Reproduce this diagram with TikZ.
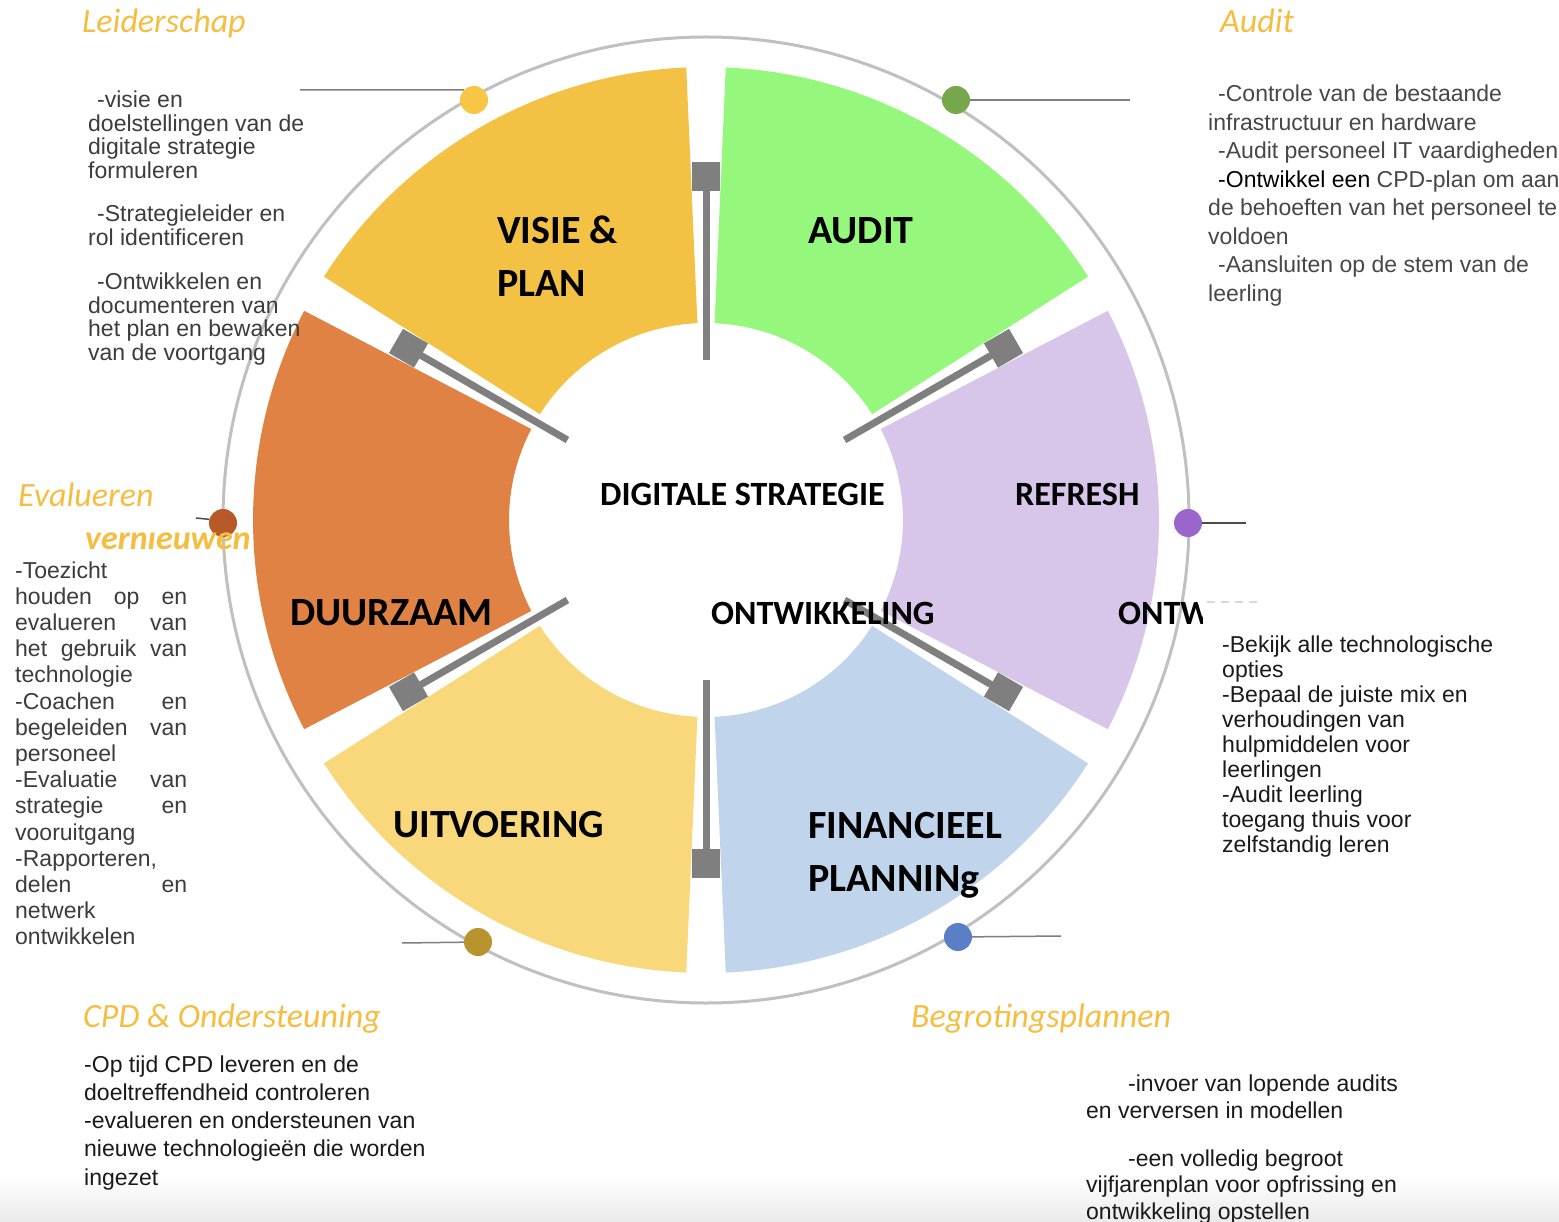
\documentclass[tikz,border=0pt]{standalone}
\usepackage{fontspec}
\setmainfont{Liberation Sans}
\newfontfamily\bodyfont{Liberation Sans}
\newfontfamily\headfont{Carlito}
\definecolor{cVisie}{HTML}{F3C143}
\definecolor{cAudit}{HTML}{96F77D}
\definecolor{cRefresh}{HTML}{D8C6EA}
\definecolor{cDuur}{HTML}{DF8244}
\definecolor{cUit}{HTML}{F8D87A}
\definecolor{cFin}{HTML}{C0D5EB}
\definecolor{cBar}{HTML}{7F7F7F}
\definecolor{cRing}{HTML}{C0C0C0}
\definecolor{cHead}{HTML}{F5BE41}
\definecolor{cDotL}{HTML}{F6C744}
\definecolor{cDotA}{HTML}{76A74A}
\definecolor{cDotR}{HTML}{9B66CC}
\definecolor{cDotE}{HTML}{B85A28}
\definecolor{cDotC}{HTML}{B8942F}
\definecolor{cDotB}{HTML}{5B7FC7}
\definecolor{tDark}{HTML}{3C3C3C}
\definecolor{tAudit}{HTML}{474747}
\definecolor{tBlack}{HTML}{1A1A1A}
\newcommand\jline[1]{\makebox[172pt][s]{#1}}
\tikzset{
  segbig/.style={font=\headfont\bfseries\fontsize{40}{44}\selectfont, anchor=base west, inner sep=0pt, text=black},
  segmid/.style={font=\headfont\bfseries\fontsize{34}{40}\selectfont, anchor=base west, inner sep=0pt, text=black},
  heading/.style={font=\headfont\itshape\fontsize{34}{40}\selectfont, anchor=base west, inner sep=0pt, text=cHead},
  body/.style={anchor=base west, inner sep=0pt, align=left},
  dotnode/.style={circle, minimum size=28pt, inner sep=0pt, draw=none},
  leader/.style={draw=cBar, line width=1.5pt},
}
\begin{document}
\begin{tikzpicture}[x=1pt,y=-1pt]
\useasboundingbox (0,0) rectangle (1559,1222);
\clip (0,0) rectangle (1559,1222);
\fill[white] (0,0) rectangle (1559,1222);
\shade[top color=white, bottom color=black!8] (0,1175) rectangle (1559,1222);

% ring
\begin{scope}[shift={(706,520)}, yscale=-1]
  \draw[cRing, line width=3pt] (0,0) circle[radius=483];
  \foreach \a/\c in {0/cRefresh, 60/cAudit, 120/cVisie, 180/cDuur, 240/cUit, 300/cFin} {
    \fill[\c] ({\a-27.5}:197) arc[start angle={\a-27.5}, end angle={\a+27.5}, radius=197]
      -- ({\a+27.5}:453) arc[start angle={\a+27.5}, end angle={\a-27.5}, radius=453] -- cycle;
  }
  \foreach \a in {30,90,150,210,270,330} {
    \begin{scope}[rotate=\a]
      \fill[cBar] (160,-3.5) rectangle (352,3.5);
      \fill[cBar] (329,-14) rectangle (358,14);
    \end{scope}
  }
\end{scope}

% dots and leader lines
\node[dotnode, fill=cDotL] (dL) at (474,100) {};
\node[dotnode, fill=cDotA] (dA) at (956,100) {};
\node[dotnode, fill=cDotR] (dR) at (1188,523) {};
\node[dotnode, fill=cDotE] (dE) at (223,523) {};
\node[dotnode, fill=cDotC] (dC) at (478,942) {};
\node[dotnode, fill=cDotB] (dB) at (958,937) {};
\coordinate (eL) at (300,90);
\coordinate (eA) at (1130,100);
\coordinate (eR) at (1246,523);
\coordinate (eE) at (196,518);
\coordinate (eC) at (402,943);
\coordinate (eB) at (1061,936);
\draw[leader] (eL) -- (dL.135);
\draw[leader] (dA) -- (eA);
\draw[leader, draw=black!70] (dR) -- (eR);
\draw[leader, draw=black!70] (eE) -- (dE.165);
\draw[leader] (eC) -- (dC);
\draw[leader] (dB) -- (eB);
\coordinate (dsA) at (1207,602);
\coordinate (dsB) at (1262,602);
\draw[draw=black!15, line width=1.5pt, dash pattern=on 8pt off 6pt] (dsA) -- (dsB);

% segment labels
\node[segbig] (tVisie) at (497,244) {VISIE \&};
\node[segbig] (tPlan) at (497,297) {PLAN};
\node[segbig] (tAudit) at (808,244) {AUDIT};
\node[segmid] (tRefresh) at (1015,505) {REFRESH};
\node[segmid] (tDig) at (600,505) {DIGITALE STRATEGIE};
\node[segbig] (tDuur) at (290,625) {DUURZAAM};
\node[segmid] (tOntw) at (711,624) {ONTWIKKELING};
\begin{scope}
  \clip (1100,590) rectangle (1202,640);
  \node[segmid] (tOntwB) at (1118,624) {ONTWIKKELING};
\end{scope}
\node[segbig] (tUit) at (393,837) {UITVOERING};
\node[segbig] (tFin) at (808,838) {FINANCIEEL};
\node[segbig] (tPlanning) at (808,891) {PLANNINg};

% headings
\node[heading] (hL) at (82,33) {Leiderschap};
\node[heading] (hA) at (1220,33) {Audit};
\node[heading] (hE) at (18,507) {Evalueren};
\begin{scope}
  \clip (60,531) rectangle (270,562);
  \node[heading, font=\headfont\bfseries\itshape\fontsize{34}{40}\selectfont] (hV) at (85,549) {vernieuwen};
\end{scope}
\node[heading] (hC) at (83,1027) {CPD \& Ondersteuning};
\node[heading] (hB) at (911,1027) {Begrotingsplannen};

% body texts (anchor = baseline of the last line)
\node[body, text=tDark, font=\bodyfont\fontsize{23}{23.5}\selectfont] (lb1) at (88,178.5)
  {\hspace*{9pt}-visie en\\doelstellingen van de\\digitale strategie\\formuleren};
\node[body, text=tDark, font=\bodyfont\fontsize{23}{23.5}\selectfont] (lb2) at (88,245.5)
  {\hspace*{9pt}-Strategieleider en\\rol identificeren};
\node[body, text=tDark, font=\bodyfont\fontsize{23}{23.5}\selectfont] (lb3) at (88,360.5)
  {\hspace*{9pt}-Ontwikkelen en\\documenteren van\\het plan en bewaken\\van de voortgang};

\node[body, text=tAudit, font=\bodyfont\fontsize{23}{28.5}\selectfont] (ab) at (1208,301.5)
  {\hspace*{10pt}-Controle van de bestaande\\infrastructuur en hardware\\\hspace*{10pt}-Audit personeel IT vaardigheden\\\hspace*{10pt}{\color{black}-Ontwikkel een} CPD-plan om aan\\de behoeften van het personeel te\\voldoen\\\hspace*{10pt}-Aansluiten op de stem van de\\leerling};

\node[body, text=tDark, font=\bodyfont\fontsize{23}{26.2}\selectfont] (eb) at (15,944.8)
  {-Toezicht\\\jline{houden op en}\\\jline{evalueren van}\\\jline{het gebruik van}\\technologie\\\jline{-Coachen en}\\\jline{begeleiden van}\\personeel\\\jline{-Evaluatie van}\\\jline{strategie en}\\vooruitgang\\-Rapporteren,\\\jline{delen en}\\netwerk\\ontwikkelen};

\node[body, text=tBlack, font=\bodyfont\fontsize{23}{25}\selectfont] (rb) at (1222,852)
  {-Bekijk alle technologische\\opties\\-Bepaal de juiste mix en\\verhoudingen van\\hulpmiddelen voor\\leerlingen\\-Audit leerling\\toegang thuis voor\\zelfstandig leren};

\node[body, text=tBlack, font=\bodyfont\fontsize{23}{28.3}\selectfont] (cb) at (84,1185.2)
  {-Op tijd CPD leveren en de\\doeltreffendheid controleren\\-evalueren en ondersteunen van\\nieuwe technologieën die worden\\ingezet};

\node[body, text=tBlack, font=\bodyfont\fontsize{23}{27}\selectfont] (bb1) at (1086,1118)
  {\hspace*{42pt}-invoer van lopende audits\\en verversen in modellen};
\node[body, text=tBlack, font=\bodyfont\fontsize{23}{26.5}\selectfont] (bb2) at (1086,1219)
  {\hspace*{42pt}-een volledig begroot\\vijfjarenplan voor opfrissing en\\ontwikkeling opstellen};
\end{tikzpicture}
\end{document}
